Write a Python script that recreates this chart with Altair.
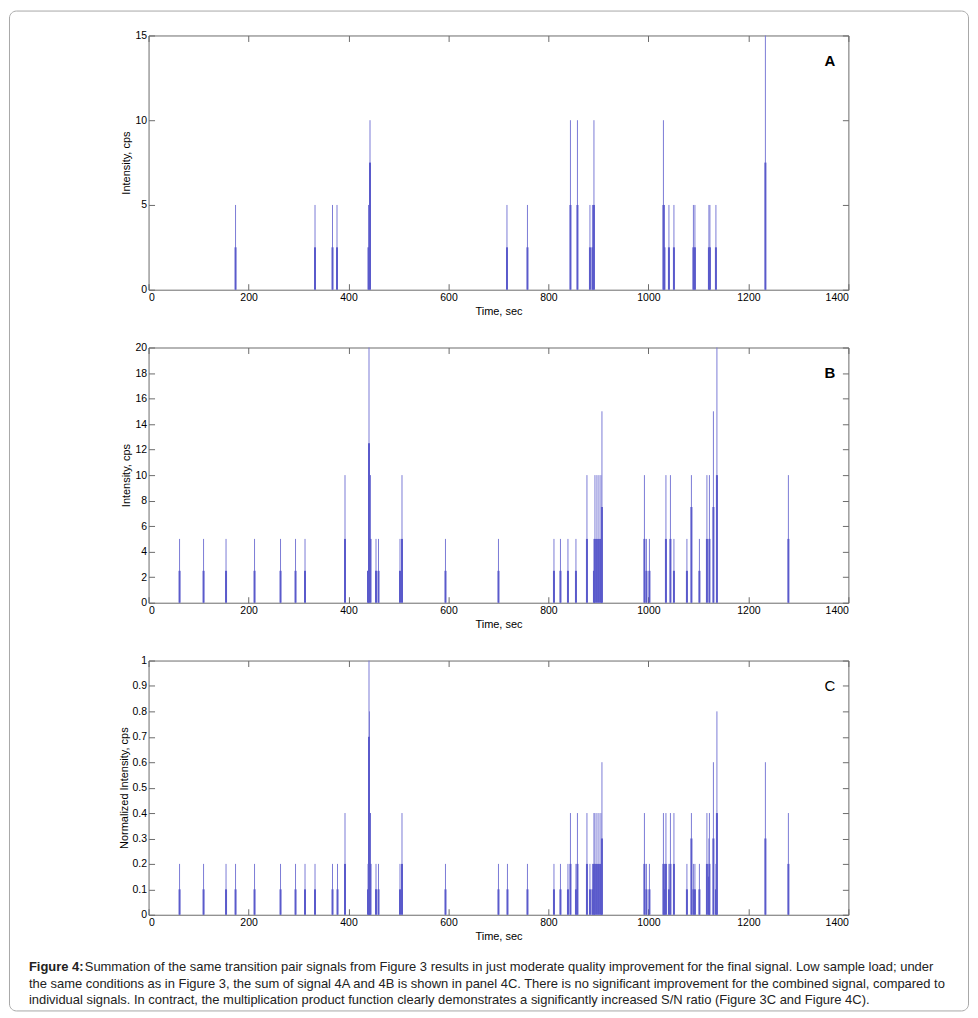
import altair as alt
import pandas as pd

# ---------------- data ----------------
# Panel A
a_t = [174, 333, 368, 377, 440, 443, 717, 758, 844, 858, 883, 888, 891,
       1030, 1032, 1041, 1051, 1090, 1093, 1121, 1123, 1135, 1234]
a_peak = [5, 5, 5, 5, 5, 10, 5, 5, 10, 10, 5, 5, 10,
          10, 5, 5, 5, 5, 5, 5, 5, 5, 15]
a_sh = [2.5, 2.5, 2.5, 2.5, 2.5, 7.5, 2.5, 2.5, 5, 5, 2.5, 2.5, 5,
        5, 2.5, 2.5, 2.5, 2.5, 2.5, 2.5, 2.5, 2.5, 7.5]

# Panel B
b_t = [62, 110, 155, 212, 264, 294, 313, 393, 439, 441, 444, 455, 460, 503, 507,
       594, 700, 811, 824, 839, 855, 877, 891, 893, 897, 901, 905, 907,
       992, 996, 1002, 1035, 1044, 1051, 1077, 1086, 1102, 1117, 1122, 1130, 1137, 1280]
b_peak = [5, 5, 5, 5, 5, 5, 5, 10, 2.5, 20, 10, 5, 5, 5, 10,
          5, 5, 5, 5, 5, 5, 10, 5, 10, 10, 10, 10, 15,
          10, 5, 5, 10, 10, 5, 5, 10, 5, 10, 10, 15, 20, 10]
b_sh = [2.5, 2.5, 2.5, 2.5, 2.5, 2.5, 2.5, 5, 2.5, 12.5, 5, 2.5, 2.5, 2.5, 5,
        2.5, 2.5, 2.5, 2.5, 2.5, 2.5, 5, 2.5, 5, 5, 5, 5, 7.5,
        5, 2.5, 2.5, 5, 5, 2.5, 2.5, 7.5, 2.5, 5, 5, 7.5, 10, 5]

# Panel C
c_t = [62, 110, 155, 174, 212, 264, 294, 313, 333, 368, 378, 393,
       439, 441, 442, 444, 455, 460, 503, 507, 594, 700, 718, 758,
       811, 824, 839, 844, 855, 858, 877, 883, 888, 891, 893, 897, 901, 905, 907,
       992, 996, 1002, 1030, 1032, 1035, 1041, 1044, 1051,
       1077, 1086, 1090, 1093, 1102, 1117, 1121, 1122, 1130, 1135, 1137, 1234, 1280]
c_peak = [0.2, 0.2, 0.2, 0.2, 0.2, 0.2, 0.2, 0.2, 0.2, 0.2, 0.2, 0.4,
          0.2, 1.0, 0.8, 0.4, 0.2, 0.2, 0.2, 0.4, 0.2, 0.2, 0.2, 0.2,
          0.2, 0.2, 0.2, 0.4, 0.2, 0.4, 0.4, 0.2, 0.2, 0.4, 0.4, 0.4, 0.4, 0.4, 0.6,
          0.4, 0.2, 0.2, 0.4, 0.2, 0.4, 0.2, 0.4, 0.4,
          0.2, 0.4, 0.2, 0.2, 0.2, 0.4, 0.3, 0.4, 0.6, 0.2, 0.8, 0.6, 0.4]
c_sh = [0.1, 0.1, 0.1, 0.1, 0.1, 0.1, 0.1, 0.1, 0.1, 0.1, 0.1, 0.2,
        0.1, 0.7, 0.4, 0.2, 0.1, 0.1, 0.1, 0.2, 0.1, 0.1, 0.1, 0.1,
        0.1, 0.1, 0.1, 0.2, 0.1, 0.2, 0.2, 0.1, 0.1, 0.2, 0.2, 0.2, 0.2, 0.2, 0.3,
        0.2, 0.1, 0.1, 0.2, 0.1, 0.2, 0.1, 0.2, 0.2,
        0.1, 0.3, 0.1, 0.1, 0.1, 0.2, 0.15, 0.2, 0.3, 0.1, 0.4, 0.3, 0.2]

x_ticks = [0, 200, 400, 600, 800, 1000, 1200, 1400]
a_ticks = [0, 5, 10, 15]
b_ticks = [0, 2, 4, 6, 8, 10, 12, 14, 16, 18, 20]
c_ticks = [0, 0.1, 0.2, 0.3, 0.4, 0.5, 0.6, 0.7, 0.8, 0.9, 1]

caption_bold = "Figure 4:"
caption_lines = [
    "Summation of the same transition pair signals from Figure 3 results in just moderate quality improvement for the final signal. Low sample load; under",
    "the same conditions as in Figure 3, the sum of signal 4A and 4B is shown in panel 4C. There is no significant improvement for the combined signal, compared to",
    "individual signals. In contract, the multiplication product function clearly demonstrates a significantly increased S/N ratio (Figure 3C and Figure 4C).",
]

# ---------------- styling ----------------
W = 702
FONT = "Liberation Sans"
CAP_FONT = "Liberation Sans"
THIN = "#7b7bd6"
THICK = "#5a5acb"
AX = "#6b6b6b"
TICK = {"expr": "-6"}
LBL = "datum.value + ''"


def panel(t, peak, sh, ymax, yticks, ytitle, label, lx, ly, h, label_weight, extra=None):
    df = pd.DataFrame({"t": t, "peak": peak, "sh": sh, "base": [0] * len(t)})
    xs = alt.Scale(domain=[0, 1400], nice=False, zero=False)
    ys = alt.Scale(domain=[0, ymax], nice=False, zero=False)
    xaxis = alt.Axis(values=x_ticks, title="Time, sec", labelExpr=LBL, grid=False,
                     domain=False, tickSize=TICK, tickColor=AX, labelPadding=9,
                     titlePadding=2)
    yaxis = alt.Axis(values=yticks, title=ytitle, labelExpr=LBL, grid=False,
                     domain=False, tickSize=TICK, tickColor=AX, labelPadding=8,
                     titlePadding=3)

    thin = alt.Chart(df).mark_rule(color=THIN, strokeWidth=1).encode(
        x=alt.X("t:Q", scale=xs, axis=xaxis),
        y=alt.Y("peak:Q", scale=ys, axis=yaxis),
        y2="base:Q",
    )
    thick = alt.Chart(df).mark_rule(color=THICK, strokeWidth=2).encode(
        x=alt.X("t:Q", axis=None),
        y=alt.Y("sh:Q", axis=None),
        y2="base:Q",
    )
    lab = alt.Chart(pd.DataFrame({"lx": [lx], "ly": [ly], "txt": [label]})).mark_text(
        font=FONT, fontSize=15, fontWeight=label_weight, color="black",
        align="center", baseline="middle"
    ).encode(
        x=alt.X("lx:Q", axis=alt.Axis(orient="top", values=x_ticks, labels=False, title=None,
                                      grid=False, domain=False, tickSize=TICK, tickColor=AX)),
        y=alt.Y("ly:Q", axis=alt.Axis(orient="right", values=yticks, labels=False, title=None,
                                      grid=False, domain=False, tickSize=TICK, tickColor=AX)),
        text="txt:N",
    )
    layers = [thin, thick, lab]
    if extra:
        layers += extra
    return alt.layer(*layers).resolve_axis(x="independent", y="independent").properties(
        width=W, height=h
    )


# decoration for bottom panel: outer frame + caption
one = pd.DataFrame({"k": [0]})
frame = alt.Chart(one).mark_rect(cornerRadius=7, fillOpacity=0, stroke="#a8a8a8", strokeWidth=1).encode(
    x=alt.value(-139.5), x2=alt.value(822.5), y=alt.value(-651.5), y2=alt.value(351.5)
)
cap_layers = [frame]
cap_layers.append(
    alt.Chart(one).mark_text(font=CAP_FONT, fontSize=13, fontWeight="bold", color="#222",
                             align="left", baseline="middle", text=caption_bold).encode(
        x=alt.value(-120), y=alt.value(307)
    )
)
cap_x = [-64, -120, -120]
cap_y = [307, 324, 341]
for i, line in enumerate(caption_lines):
    cap_layers.append(
        alt.Chart(one).mark_text(font=CAP_FONT, fontSize=13, color="#222",
                                 align="left", baseline="middle", text=line).encode(
            x=alt.value(cap_x[i]), y=alt.value(cap_y[i])
        )
    )

pa = panel(a_t, a_peak, a_sh, 15, a_ticks, "Intensity, cps", "A", 1363, 13.5, 255, "bold")
pb = panel(b_t, b_peak, b_sh, 20, b_ticks, "Intensity, cps", "B", 1363, 18, 256, "bold")
pc = panel(c_t, c_peak, c_sh, 1, c_ticks, "Normalized Intensity, cps", "C", 1363, 0.9, 255,
           "normal", extra=cap_layers)

chart = alt.vconcat(pa, pb, pc, spacing=58, bounds="flush").properties(
    padding=0
).configure_view(
    stroke=AX, strokeWidth=1
).configure_axis(
    labelFont=FONT, labelFontSize=10.5, labelColor="black",
    titleFont=FONT, titleFontSize=11, titleFontWeight="normal", titleColor="black",
)

chart.save("out.html", embed_options={"renderer": "svg", "actions": False})
